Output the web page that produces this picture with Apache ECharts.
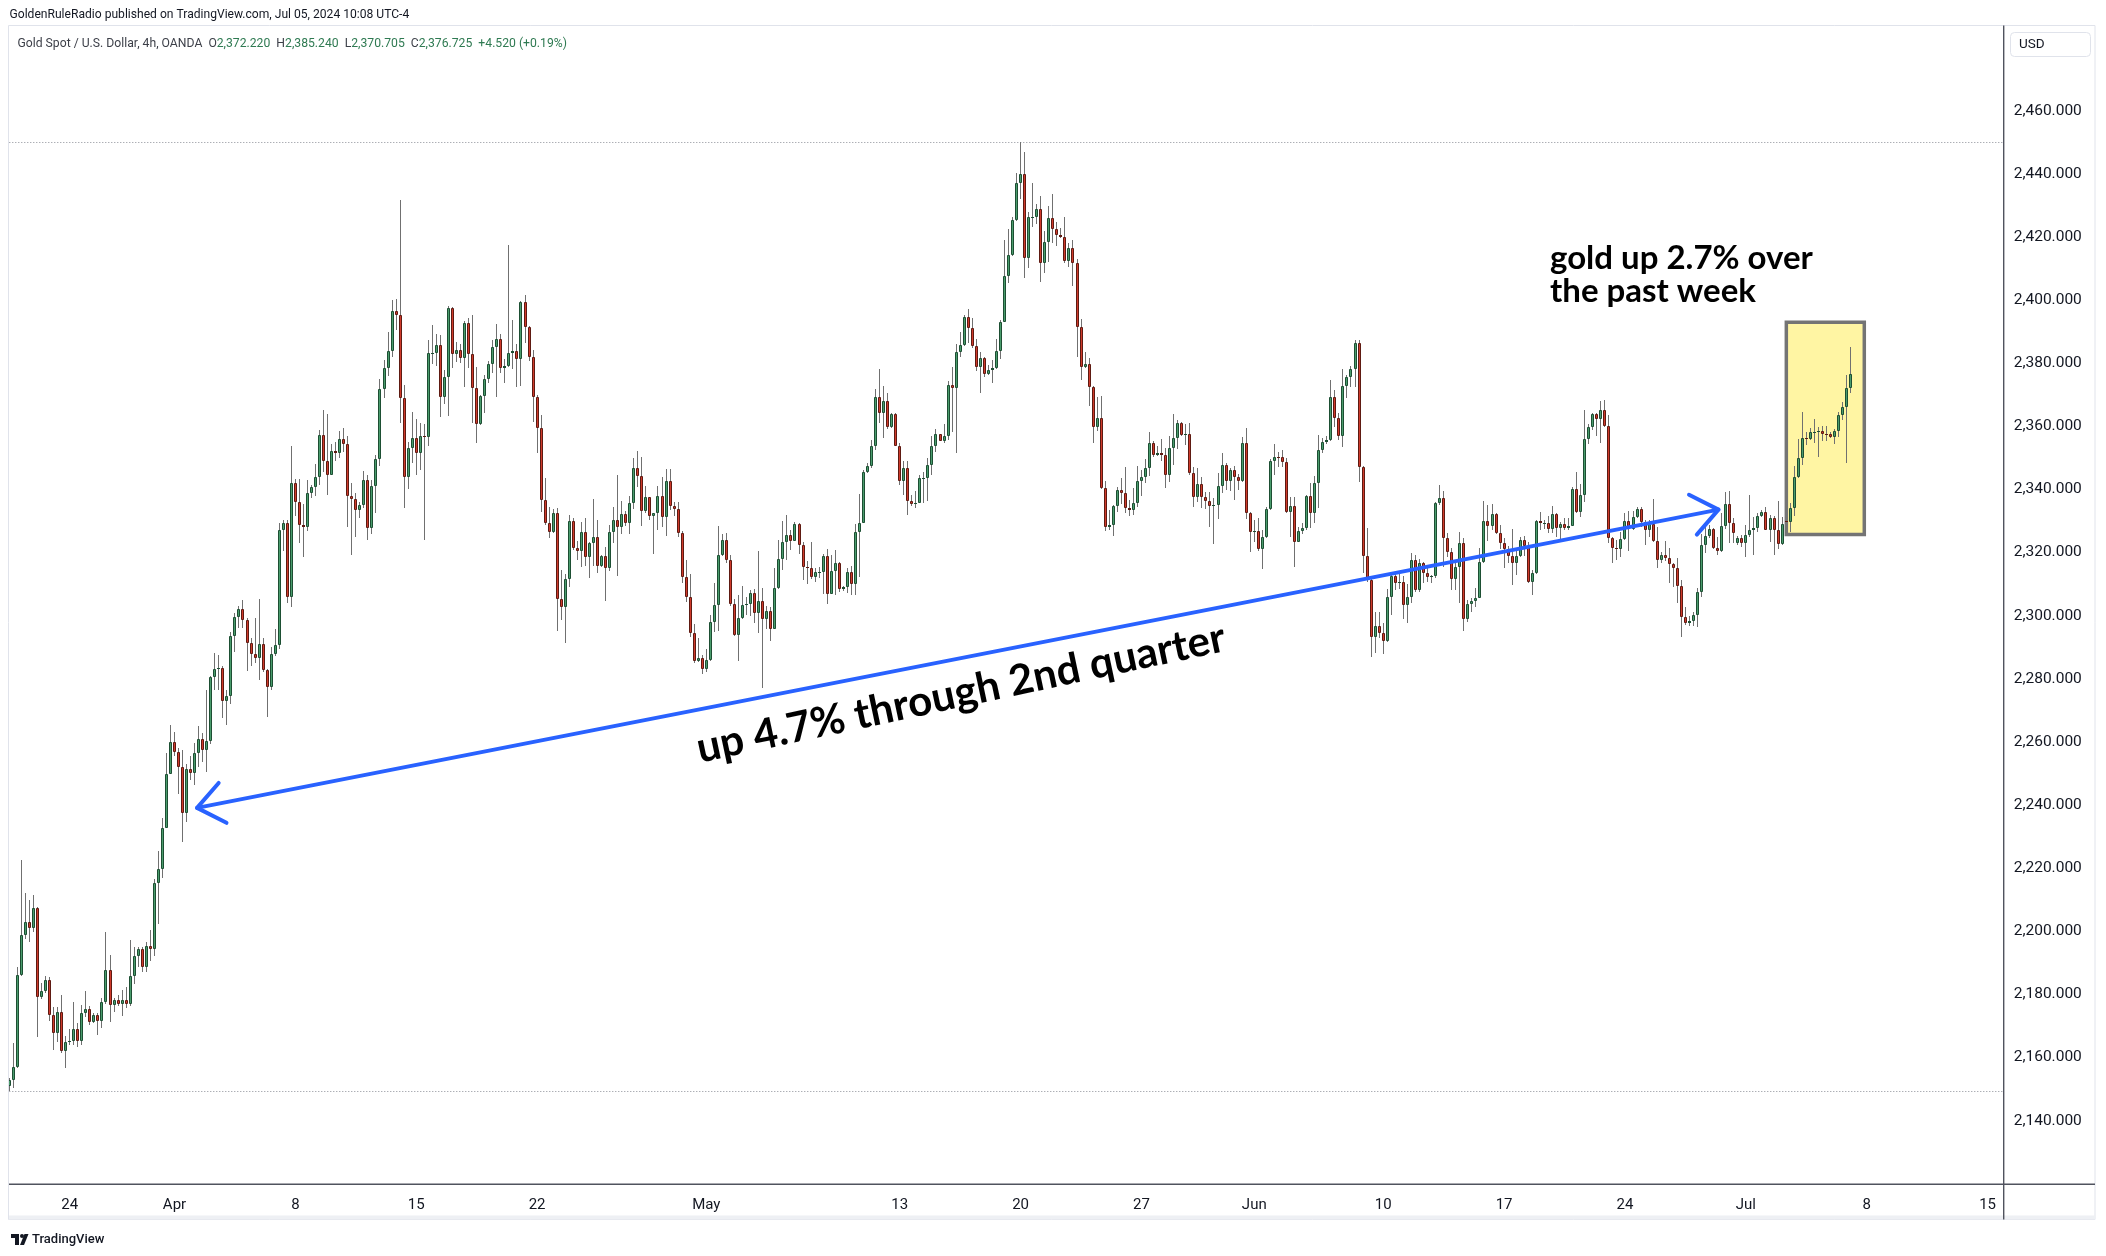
<!DOCTYPE html>
<html><head><meta charset="utf-8">
<script src="https://cdn.jsdelivr.net/npm/echarts@6/dist/echarts.min.js"></script>
<style>html,body{margin:0;padding:0;background:#fff}#c{width:2106px;height:1256px}</style>
</head><body><div id="c"></div>
<script>
// ---- 4h OHLC bars [open, high, low, close], grouped by trading week ----
const mar20 = [
[2151.0,2153.5,2149.4,2152.9],[2152.9,2164.5,2150.2,2157.1],[2157.1,2188.8,2156.6,2186.2],[2186.2,2222.6,2185.9,2198.8],[2198.8,2212.2,2197.7,2202.8],
[2202.8,2209.9,2196.7,2201.2],[2201.2,2211.5,2199.9,2207.3],[2207.3,2207.8,2166.4,2179.3],[2179.3,2183.5,2178.4,2181.1],[2181.1,2185.8,2180.3,2184.6],
[2184.6,2185.4,2171.7,2173.4],[2173.4,2175.9,2162.4,2167.7],[2167.7,2175.9,2165.0,2174.3],[2174.3,2179.8,2161.5,2162.2],[2162.2,2166.8,2156.8,2164.8]];
const mar24 = [
[2164.8,2169.2,2164.0,2165.2],[2165.2,2177.7,2164.0,2168.9],[2168.9,2170.8,2163.4,2165.4],[2165.4,2176.6,2164.0,2174.0],[2174.0,2181.1,2173.0,2175.3],
[2175.3,2176.3,2170.3,2171.4],[2171.4,2174.0,2171.1,2173.5],[2173.5,2174.0,2167.2,2171.7],[2171.7,2178.8,2169.5,2177.7],[2177.7,2199.9,2177.0,2187.7],
[2187.7,2192.5,2171.4,2176.5],[2176.5,2179.0,2174.5,2178.2],[2178.2,2179.8,2176.4,2177.0],[2177.0,2181.4,2173.3,2178.2],[2178.2,2182.5,2175.6,2176.9],
[2176.9,2197.3,2176.4,2185.8],[2185.8,2195.1,2183.3,2192.2],[2192.2,2194.9,2188.8,2194.5],[2194.5,2194.9,2187.2,2188.6],[2188.6,2196.6,2187.2,2195.4],
[2195.4,2200.4,2190.7,2194.3],[2194.3,2216.6,2192.2,2215.4],[2215.4,2225.4,2202.3,2219.9],[2219.9,2235.8,2216.8,2232.6]];
const mar31 = [
[2232.6,2256.4,2232.6,2249.9],[2249.9,2265.4,2249.9,2259.9],[2259.9,2263.3,2255.5,2256.9],[2256.9,2258.0,2243.5,2252.2],[2252.2,2257.4,2228.4,2237.6],
[2237.6,2252.9,2234.5,2251.3],[2251.3,2255.5,2247.8,2250.2],[2250.2,2259.8,2246.5,2256.5],[2256.5,2265.1,2252.2,2260.9],[2260.9,2262.9,2253.5,2257.3],
[2257.3,2276.5,2250.6,2260.2],[2260.2,2280.9,2259.5,2280.5],[2280.5,2288.2,2276.5,2283.1],[2283.1,2287.5,2276.5,2283.3],[2283.3,2284.2,2267.5,2272.9],
[2272.9,2276.5,2265.3,2274.5],[2274.5,2294.9,2271.9,2293.5],[2293.5,2300.9,2288.6,2299.5],[2299.5,2303.1,2296.2,2302.2],[2302.2,2304.9,2296.2,2298.6],
[2298.6,2299.2,2282.6,2291.2],[2291.2,2292.9,2284.2,2287.8],[2287.8,2299.2,2284.9,2286.5],[2286.5,2305.3,2279.5,2290.9],[2290.9,2292.9,2282.2,2282.9],
[2282.9,2283.1,2267.8,2277.5],[2277.5,2290.2,2276.5,2287.8],[2287.8,2295.9,2287.1,2290.6],[2290.6,2329.5,2289.5,2327.2],[2327.2,2330.2,2320.5,2329.5]];
const apr07 = [
[2329.5,2330.2,2304.0,2305.8],[2305.8,2353.8,2302.9,2341.9],[2341.9,2343.2,2331.5,2335.9],[2335.9,2343.2,2322.9,2328.6],[2328.6,2335.5,2318.6,2328.0],
[2328.0,2342.9,2326.9,2338.9],[2338.9,2341.5,2337.2,2340.7],[2340.7,2348.2,2337.8,2343.8],[2343.8,2358.9,2341.5,2357.1],[2357.1,2365.3,2345.6,2348.9],
[2348.9,2363.9,2338.2,2344.7],[2344.7,2354.5,2344.6,2352.2],[2352.2,2355.0,2349.0,2351.5],[2351.5,2358.5,2350.0,2356.0],[2356.0,2359.6,2352.0,2354.5],
[2354.5,2357.0,2328.2,2337.9],[2337.9,2342.0,2319.1,2337.1],[2337.1,2339.0,2325.0,2333.5],[2333.5,2336.0,2331.0,2335.1],[2335.1,2346.0,2334.0,2342.9],
[2342.9,2344.5,2324.0,2327.9],[2327.9,2343.0,2326.0,2341.2],[2341.2,2351.0,2332.5,2349.6],[2349.6,2375.0,2347.5,2371.8],[2371.8,2381.0,2369.0,2378.5],
[2378.5,2390.0,2376.0,2384.0],[2384.0,2400.0,2382.0,2396.5],[2396.5,2400.5,2390.5,2395.4],[2395.4,2431.6,2360.9,2368.9],[2368.9,2373.0,2334.0,2343.8]];
const apr14 = [
[2343.8,2355.0,2340.0,2353.0],[2353.0,2364.6,2348.3,2356.2],[2356.2,2362.2,2344.6,2351.4],[2351.4,2361.0,2346.2,2356.9],[2356.9,2360.7,2324.0,2356.7],
[2356.7,2387.4,2353.9,2383.1],[2383.1,2392.1,2379.8,2383.3],[2383.3,2389.3,2379.1,2385.8],[2385.8,2389.0,2362.9,2369.2],[2369.2,2377.9,2367.1,2375.7],
[2375.7,2398.1,2363.4,2397.4],[2397.4,2397.9,2378.4,2382.8],[2382.8,2386.8,2380.5,2384.2],[2384.2,2386.1,2380.2,2381.5],[2381.5,2393.5,2372.6,2392.6],
[2392.6,2394.2,2378.4,2382.8],[2382.8,2395.3,2360.9,2372.0],[2372.0,2378.7,2354.6,2360.6],[2360.6,2370.0,2360.4,2369.6],[2369.6,2376.3,2364.1,2374.9],
[2374.9,2380.7,2373.6,2379.6],[2379.6,2387.4,2377.0,2385.0],[2385.0,2392.4,2369.4,2387.6],[2387.6,2389.3,2376.8,2378.6],[2378.6,2381.3,2373.6,2379.1],
[2379.1,2417.6,2378.9,2383.1],[2383.1,2393.7,2378.1,2383.9],[2383.9,2386.1,2372.6,2381.2],[2381.2,2399.8,2372.8,2399.3],[2399.3,2401.6,2386.5,2391.6]];
const apr21 = [
[2391.6,2391.8,2380.8,2381.9],[2381.9,2384.2,2361.5,2369.2],[2369.2,2369.9,2351.4,2359.4],[2359.4,2363.6,2333.0,2336.7],[2336.7,2343.5,2328.7,2329.5],
[2329.5,2334.5,2324.5,2326.6],[2326.6,2333.7,2326.1,2332.4],[2332.4,2334.0,2295.3,2305.2],[2305.2,2314.5,2298.6,2302.9],[2302.9,2313.2,2291.2,2311.5],
[2311.5,2331.9,2309.2,2330.0],[2330.0,2330.9,2320.8,2321.6],[2321.6,2323.8,2317.6,2320.6],[2320.6,2329.6,2315.5,2326.5],[2326.5,2330.9,2315.7,2318.7],
[2318.7,2323.5,2311.8,2323.1],[2323.1,2337.0,2315.8,2324.8],[2324.8,2330.3,2313.6,2315.8],[2315.8,2319.2,2315.3,2318.9],[2318.9,2321.9,2304.8,2315.0],
[2315.0,2328.7,2314.3,2326.4],[2326.4,2334.5,2322.9,2330.3],[2330.3,2344.6,2312.6,2328.2],[2328.2,2336.4,2325.9,2332.2],[2332.2,2333.3,2328.4,2329.5],
[2329.5,2337.9,2325.9,2335.8],[2335.8,2349.9,2333.7,2346.7],[2346.7,2352.2,2340.7,2344.4],[2344.4,2350.4,2328.4,2333.3],[2333.3,2341.1,2332.6,2337.5]];
const apr28 = [
[2337.5,2337.7,2330.3,2331.7],[2331.7,2332.6,2319.5,2332.4],[2332.4,2341.1,2327.2,2337.9],[2337.9,2344.1,2328.0,2331.4],[2331.4,2346.4,2325.2,2342.7],
[2342.7,2346.4,2333.5,2334.9],[2334.9,2336.1,2331.6,2333.7],[2333.7,2336.1,2324.8,2326.1],[2326.1,2326.9,2310.5,2312.4],[2312.4,2317.7,2304.4,2305.8],
[2305.8,2313.2,2293.1,2294.4],[2294.4,2297.4,2285.1,2285.7],[2285.7,2292.8,2285.4,2286.5],[2286.5,2287.7,2281.5,2283.1],[2283.1,2289.4,2282.3,2286.0],
[2286.0,2300.1,2285.8,2298.1],[2298.1,2310.5,2294.9,2303.4],[2303.4,2328.3,2295.0,2319.1],[2319.1,2326.0,2318.9,2324.0],[2324.0,2326.3,2316.8,2317.8],
[2317.8,2319.1,2303.0,2303.6],[2303.6,2305.3,2293.6,2294.0],[2294.0,2306.7,2285.5,2299.2],[2299.2,2309.3,2299.0,2303.4],[2303.4,2305.9,2300.1,2303.8],
[2303.8,2308.2,2299.8,2307.3],[2307.3,2308.5,2297.6,2300.9],[2300.9,2320.5,2294.6,2304.5],[2304.5,2308.8,2277.1,2298.8],[2298.8,2303.0,2295.9,2301.5]];
const may05 = [
[2301.5,2302.7,2292.1,2295.8],[2295.8,2315.1,2295.8,2308.8],[2308.8,2324.0,2308.4,2318.0],[2318.0,2330.1,2314.5,2323.2],[2323.2,2332.0,2317.6,2325.5],
[2325.5,2327.2,2320.9,2323.7],[2323.7,2329.7,2323.7,2329.2],[2329.2,2329.5,2319.7,2322.4],[2322.4,2323.2,2311.4,2315.3],[2315.3,2317.4,2309.9,2315.0],
[2315.0,2323.4,2311.6,2312.2],[2312.2,2315.1,2310.7,2313.7],[2313.7,2315.3,2312.0,2313.9],[2313.9,2319.7,2307.0,2318.9],[2318.9,2321.1,2303.6,2307.0],
[2307.0,2319.1,2307.0,2314.2],[2314.2,2320.9,2306.7,2316.6],[2316.6,2317.1,2307.6,2308.4],[2308.4,2309.5,2307.8,2309.1],[2309.1,2315.1,2307.3,2313.9],
[2313.9,2315.7,2306.7,2310.1],[2310.1,2328.9,2306.5,2326.4],[2326.4,2338.7,2312.2,2329.5],[2329.5,2346.2,2329.3,2345.6],[2345.6,2348.5,2345.1,2347.4],
[2347.4,2355.8,2346.8,2353.7],[2353.7,2371.9,2352.5,2369.2],[2369.2,2378.2,2361.2,2364.3],[2364.3,2372.7,2356.2,2368.1],[2368.1,2370.7,2359.2,2359.8]];
const may12 = [
[2359.8,2364.3,2359.4,2363.8],[2363.8,2364.1,2353.7,2353.9],[2353.9,2354.8,2341.3,2342.8],[2342.8,2349.1,2338.1,2346.8],[2346.8,2349.1,2332.0,2336.2],
[2336.2,2338.1,2334.7,2335.5],[2335.5,2339.5,2334.1,2335.8],[2335.8,2344.7,2335.8,2343.6],[2343.6,2345.6,2335.8,2343.7],[2343.7,2349.9,2336.2,2347.9],
[2347.9,2356.9,2344.7,2353.9],[2353.9,2359.2,2352.0,2357.5],[2357.5,2357.7,2355.2,2355.4],[2355.4,2360.8,2354.8,2356.8],[2356.8,2374.4,2355.7,2373.0],
[2373.0,2378.8,2358.1,2372.3],[2372.3,2386.2,2351.6,2383.4],[2383.4,2390.0,2382.1,2385.8],[2385.8,2395.3,2385.5,2394.5],[2394.5,2397.2,2386.3,2391.1],
[2391.1,2394.2,2384.7,2385.6],[2385.6,2387.6,2377.6,2378.7],[2378.7,2383.5,2370.7,2381.5],[2381.5,2382.1,2375.7,2376.5],[2376.5,2379.4,2376.3,2377.8],
[2377.8,2381.0,2373.8,2378.5],[2378.5,2387.7,2378.1,2383.9],[2383.9,2393.7,2381.3,2393.0],[2393.0,2419.0,2392.9,2407.6],[2407.6,2422.5,2405.5,2414.3]];
const may19 = [
[2414.3,2426.2,2414.0,2425.4],[2425.4,2440.4,2425.2,2437.2],[2437.2,2450.07,2431.9,2439.9],[2439.9,2447.0,2407.1,2413.4],[2413.4,2428.0,2410.3,2426.2],
[2426.2,2437.2,2423.3,2426.4],[2426.4,2430.5,2424.1,2428.8],[2428.8,2433.0,2405.8,2411.9],[2411.9,2421.9,2408.5,2418.3],[2418.3,2429.8,2412.2,2425.9],
[2425.9,2433.6,2418.0,2422.4],[2422.4,2424.8,2417.2,2420.5],[2420.5,2422.9,2419.6,2420.1],[2420.1,2426.2,2411.9,2412.5],[2412.5,2418.2,2410.6,2416.4],
[2416.4,2419.0,2404.5,2411.9],[2411.9,2412.9,2382.1,2391.6],[2391.6,2394.0,2374.7,2378.7],[2378.7,2383.7,2378.4,2379.9],[2379.9,2381.5,2366.4,2372.4],
[2372.4,2372.8,2354.8,2359.9],[2359.9,2369.4,2358.6,2362.5],[2362.5,2369.6,2340.0,2340.6],[2340.6,2342.8,2326.8,2328.2],[2328.2,2333.5,2327.2,2328.7],
[2328.7,2335.1,2325.3,2334.8],[2334.8,2340.9,2333.0,2339.8],[2339.8,2343.5,2335.4,2339.0],[2339.0,2347.2,2332.4,2334.0],[2334.0,2336.7,2331.6,2333.5]];
const may26 = [
[2333.5,2340.4,2331.9,2335.8],[2335.8,2347.4,2334.5,2342.7],[2342.7,2346.2,2338.0,2343.8],[2343.8,2349.5,2342.1,2346.7],[2346.7,2358.3,2344.3,2354.6],
[2354.6,2355.2,2350.4,2350.9],[2350.9,2353.8,2350.6,2351.7],[2351.7,2355.9,2349.1,2350.9],[2350.9,2353.2,2340.4,2344.6],[2344.6,2356.9,2342.3,2353.0],
[2353.0,2363.9,2347.9,2356.2],[2356.2,2362.0,2352.7,2360.9],[2360.9,2361.4,2356.9,2357.3],[2357.3,2360.7,2354.1,2357.5],[2357.5,2360.9,2344.6,2345.1],
[2345.1,2347.0,2334.3,2337.5],[2337.5,2346.9,2335.9,2341.6],[2341.6,2344.0,2334.0,2337.7],[2337.7,2339.3,2333.7,2336.4],[2336.4,2339.3,2328.0,2334.9],
[2334.9,2337.2,2322.6,2335.0],[2335.0,2345.1,2330.5,2341.1],[2341.1,2351.4,2338.8,2347.7],[2347.7,2348.3,2339.8,2342.8],[2342.8,2346.9,2339.6,2346.2],
[2346.2,2347.4,2336.7,2343.8],[2343.8,2344.9,2339.8,2342.8],[2342.8,2356.7,2342.5,2354.6],[2354.6,2359.6,2330.5,2332.4],[2332.4,2333.0,2320.3,2326.6]];
const jun02 = [
[2326.6,2330.3,2323.2,2326.9],[2326.9,2330.8,2320.6,2321.0],[2321.0,2327.1,2314.7,2325.0],[2325.0,2334.5,2324.5,2333.8],[2333.8,2349.5,2333.5,2349.0],
[2349.0,2354.4,2344.6,2350.4],[2350.4,2352.0,2347.2,2350.2],[2350.2,2352.5,2347.0,2348.8],[2348.8,2349.9,2332.4,2333.0],[2333.0,2337.7,2325.0,2334.8],
[2334.8,2337.7,2315.5,2323.5],[2323.5,2328.2,2323.3,2326.9],[2326.9,2329.3,2325.9,2327.7],[2327.7,2338.2,2327.2,2337.9],[2337.9,2341.9,2327.7,2332.4],
[2332.4,2344.3,2329.3,2341.9],[2341.9,2357.2,2334.0,2352.5],[2352.5,2356.2,2351.6,2354.9],[2354.9,2356.9,2354.4,2355.7],[2355.7,2374.7,2355.5,2369.2],
[2369.2,2371.5,2359.7,2362.5],[2362.5,2364.1,2355.7,2357.0],[2357.0,2378.1,2353.3,2372.8],[2372.8,2376.3,2368.9,2375.5],[2375.5,2379.1,2372.4,2378.1],
[2378.1,2387.4,2372.4,2386.3],[2386.3,2387.4,2342.5,2347.0],[2347.0,2347.4,2313.4,2319.0],[2319.0,2327.7,2310.8,2311.3],[2311.3,2311.8,2286.8,2293.4]];
const jun09 = [
[2293.4,2301.3,2288.1,2296.7],[2296.7,2301.3,2292.8,2294.4],[2294.4,2297.6,2287.8,2292.1],[2292.1,2308.4,2291.8,2305.8],[2305.8,2313.6,2300.2,2312.6],
[2312.6,2313.2,2308.3,2310.5],[2310.5,2313.1,2308.6,2310.8],[2310.8,2312.6,2298.8,2303.3],[2303.3,2310.2,2297.6,2305.8],[2305.8,2319.8,2303.9,2317.6],
[2317.6,2319.2,2307.6,2308.1],[2308.1,2317.9,2307.6,2316.6],[2316.6,2317.1,2310.5,2313.6],[2313.6,2315.0,2310.8,2312.4],[2312.4,2313.0,2310.5,2312.6],
[2312.6,2336.1,2311.8,2335.6],[2335.6,2341.4,2335.1,2337.2],[2337.2,2339.5,2315.5,2324.5],[2324.5,2326.3,2318.5,2320.3],[2320.3,2321.3,2308.1,2311.5],
[2311.5,2317.1,2308.1,2315.3],[2315.3,2326.6,2303.9,2322.9],[2322.9,2324.5,2295.3,2298.8],[2298.8,2305.0,2298.1,2303.7],[2303.7,2305.5,2301.3,2304.6],
[2304.6,2308.7,2302.9,2305.5],[2305.5,2321.3,2305.5,2316.9],[2316.9,2336.3,2316.6,2330.0],[2330.0,2335.1,2323.8,2328.5],[2328.5,2335.4,2327.1,2332.1]];
const jun16 = [
[2332.1,2332.4,2325.9,2326.1],[2326.1,2328.7,2321.0,2323.1],[2323.1,2324.5,2315.2,2321.0],[2321.0,2322.1,2316.6,2319.0],[2319.0,2327.4,2309.7,2316.6],
[2316.6,2320.8,2312.9,2318.9],[2318.9,2325.0,2318.7,2324.0],[2324.0,2325.2,2318.9,2322.2],[2322.2,2323.5,2310.5,2310.8],[2310.8,2314.5,2306.6,2313.4],
[2313.4,2330.3,2313.2,2330.0],[2330.0,2333.0,2327.2,2329.3],[2329.3,2330.3,2327.4,2329.5],[2329.5,2331.6,2326.3,2327.5],[2327.5,2334.8,2326.1,2332.1],
[2332.1,2332.4,2325.0,2327.9],[2327.9,2329.8,2323.5,2329.0],[2329.0,2330.8,2327.1,2327.7],[2327.7,2330.8,2327.3,2328.4],[2328.4,2340.9,2328.4,2340.0],
[2340.0,2345.6,2332.6,2332.9],[2332.9,2341.7,2331.4,2338.2],[2338.2,2365.2,2336.1,2355.9],[2355.9,2360.7,2354.4,2359.7],[2359.7,2364.3,2358.8,2363.8],
[2363.8,2364.3,2356.9,2362.4],[2362.4,2368.1,2354.6,2365.2],[2365.2,2368.3,2359.9,2360.2],[2360.2,2363.6,2323.1,2324.5],[2324.5,2324.8,2316.6,2321.4]];
const jun23 = [
[2321.4,2324.1,2317.6,2321.0],[2321.0,2326.6,2318.7,2324.2],[2324.2,2332.4,2324.0,2330.1],[2330.1,2333.3,2320.6,2327.4],[2327.4,2333.3,2327.2,2331.4],
[2331.4,2334.5,2330.8,2333.8],[2333.8,2334.5,2328.2,2329.8],[2329.8,2330.3,2322.4,2327.1],[2327.1,2330.3,2324.8,2329.0],[2329.0,2336.9,2323.5,2323.8],
[2323.8,2328.0,2315.2,2317.6],[2317.6,2320.3,2316.6,2319.2],[2319.2,2323.8,2317.4,2318.2],[2318.2,2321.4,2310.5,2316.3],[2316.3,2316.6,2309.2,2315.2],
[2315.2,2318.2,2304.1,2309.5],[2309.5,2311.3,2293.4,2299.5],[2299.5,2302.9,2297.0,2297.8],[2297.8,2299.9,2296.7,2298.4],[2298.4,2301.3,2296.7,2300.2],
[2300.2,2308.7,2296.5,2307.4],[2307.4,2326.0,2306.0,2322.4],[2322.4,2328.4,2319.8,2325.2],[2325.2,2328.7,2324.5,2327.5],[2327.5,2327.8,2321.0,2321.3],
[2321.3,2325.0,2319.2,2320.6],[2320.6,2332.4,2320.3,2328.4],[2328.4,2339.3,2327.4,2335.4],[2335.4,2339.5,2322.9,2329.5],[2329.5,2330.8,2322.9,2326.3]];
const jun30 = [
[2322.9,2325.2,2322.4,2324.5],[2324.5,2325.6,2321.9,2323.1],[2323.1,2328.7,2318.5,2325.6],[2325.6,2338.2,2325.0,2327.2],[2327.2,2331.4,2319.2,2327.9],
[2327.9,2332.4,2326.6,2331.7],[2331.7,2333.5,2331.2,2333.0],[2333.0,2334.3,2327.0,2327.2],[2327.2,2331.9,2323.5,2330.8],[2330.8,2331.6,2319.2,2327.2],
[2327.2,2336.4,2321.0,2322.7],[2322.7,2331.2,2322.4,2329.0],[2330.0,2330.2,2329.3,2329.6],[2329.6,2335.6,2326.6,2334.0],[2334.0,2347.4,2331.7,2344.0],
[2344.0,2355.9,2343.5,2350.1],[2350.1,2364.6,2347.8,2356.2],[2356.2,2358.3,2354.1,2355.9],[2355.9,2359.4,2355.7,2358.1],[2358.1,2362.2,2354.8,2358.3],
[2358.3,2359.9,2350.4,2358.5],[2358.5,2360.1,2355.5,2357.5],[2357.5,2360.1,2355.5,2357.3],[2357.5,2358.1,2356.2,2356.7],[2356.7,2359.0,2354.3,2358.5],
[2358.5,2364.6,2356.5,2363.6],[2363.6,2367.8,2362.0,2366.0],[2366.0,2376.3,2348.5,2372.205],[2372.22,2385.24,2370.705,2376.725]];

// ---- time axis (bar index of each label) ----
const tickBars   = [15, 41, 71, 101, 131, 173, 221, 251, 281, 309, 341, 371, 401, 431, 461, 491];
const tickLabels = ['24','Apr','8','15','22','May','13','20','27','Jun','10','17','24','Jul','8','15'];
const axisSlots = 495;          // bar slots across the plot (incl. empty future space)

// ---- price axis ----
const priceMin = 2120, priceMax = 2487, priceStep = 20;
const priceShownMin = 2140, priceShownMax = 2460;

// ---- range marker lines (visible high / low) ----
const rangeLines = [2450.07, 2149.4];

// ---- drawings (in bar index / price) ----
const arrowEnds = [[46.6, 2239.1, 424.2, 2333.6]];
const boxCorners = [[441.05, 2393.0, 460.4, 2325.7]];
const noteTexts = ['gold up 2.7% over\nthe past week', 'up 4.7% through 2nd quarter'];
const noteAnchors = [[382.4, 2407.9], [236.2, 2275.4]];

const headerText = 'GoldenRuleRadio published on TradingView.com, Jul 05, 2024 10:08 UTC-4';
const symbolText = 'Gold Spot / U.S. Dollar, 4h, OANDA';

// ---------------------------------------------------------------
const weeks = [mar20, mar24, mar31, apr07, apr14, apr21, apr28, may05, may12, may19, may26, jun02, jun09, jun16, jun23, jun30];
const ohlc = [].concat(...weeks);
const candleData = ohlc.map((b, i) => [i, b[0], b[1], b[2], b[3]]);

const fmtP = v => v.toLocaleString('en-US', {minimumFractionDigits: 3, maximumFractionDigits: 3});
const last = ohlc[ohlc.length - 1], prevC = ohlc[ohlc.length - 2][3];
const chg = last[3] - prevC;
const chgTxt = (chg >= 0 ? '+' : '') + chg.toFixed(3) + ' (' + (chg >= 0 ? '+' : '') + (chg / prevC * 100).toFixed(2) + '%)';

const UP_F = '#4a9c6d', UP_B = '#1d4f33', DN_F = '#cf3a2b', DN_B = '#5e1a12', WICK = '#707070';
const BLUE = '#2962ff';

function renderCandle(params, api) {
  const i = api.value(0), o = api.value(1), h = api.value(2), l = api.value(3), c = api.value(4);
  const po = api.coord([i, o]), pc = api.coord([i, c]), ph = api.coord([i, h]), pl = api.coord([i, l]);
  const x = Math.floor(po[0]);
  const up = c >= o;
  let yt = Math.round(Math.min(po[1], pc[1])), yb = Math.round(Math.max(po[1], pc[1]));
  if (yb - yt < 1) yb = yt + 1;
  const wt = Math.round(ph[1]), wb = Math.round(pl[1]);
  const ch = [{type: 'rect', shape: {x: x, y: wt, width: 1, height: Math.max(1, wb - wt)}, style: {fill: WICK}}];
  const bh = yb - yt;
  if (bh <= 2) {
    ch.push({type: 'rect', shape: {x: x - 1, y: yt, width: 3, height: bh}, style: {fill: up ? UP_B : DN_B}});
  } else {
    ch.push({type: 'rect', shape: {x: x - 0.5, y: yt + 0.5, width: 2, height: bh - 1},
      style: {fill: up ? UP_F : DN_F, stroke: up ? UP_B : DN_B, lineWidth: 1}});
  }
  return {type: 'group', children: ch};
}

function renderRange(params, api) {
  const a = api.coord([0, api.value(0)]), b = api.coord([axisSlots, api.value(0)]);
  const y = Math.round(a[1]) + 0.5;
  return {type: 'line', shape: {x1: a[0], y1: y, x2: b[0], y2: y},
    style: {stroke: '#8a8d96', lineWidth: 1, lineDash: [1, 2]}};
}

function renderBox(params, api) {
  const a = api.coord([api.value(0), api.value(1)]), b = api.coord([api.value(2), api.value(3)]);
  return {type: 'rect', shape: {x: a[0], y: a[1], width: b[0] - a[0], height: b[1] - a[1]},
    style: {fill: '#fff5a3', stroke: '#747474', lineWidth: 3.5}};
}

function renderArrow(params, api) {
  const a = api.coord([api.value(0), api.value(1)]), b = api.coord([api.value(2), api.value(3)]);
  const ang = Math.atan2(b[1] - a[1], b[0] - a[0]);
  const L = 33, t = 38 * Math.PI / 180;
  const st = {stroke: BLUE, lineWidth: 4, fill: null, lineCap: 'round', lineJoin: 'round'};
  const head = (p, d) => ({type: 'polyline', shape: {points: [
    [p[0] + L * Math.cos(d + t), p[1] + L * Math.sin(d + t)], [p[0], p[1]],
    [p[0] + L * Math.cos(d - t), p[1] + L * Math.sin(d - t)]]}, style: st});
  return {type: 'group', children: [
    {type: 'line', shape: {x1: a[0], y1: a[1], x2: b[0], y2: b[1]}, style: st},
    head(a, ang), head(b, ang + Math.PI)]};
}

function renderNote(params, api) {
  const k = params.dataIndex;
  const p = api.coord([api.value(0), api.value(1)]);
  if (k === 0) {
    return {type: 'text', x: p[0], y: p[1], style: {text: noteTexts[0], fontFamily: 'Lato', fontWeight: 'bold',
      fontSize: 33, lineHeight: 33, fill: '#000', align: 'left', verticalAlign: 'middle'}};
  }
  return {type: 'text', x: p[0], y: p[1], rotation: 12 * Math.PI / 180,
    style: {text: noteTexts[1], fontFamily: 'Lato', fontWeight: 'bold', fontSize: 42, fill: '#000',
      align: 'center', verticalAlign: 'middle'}};
}

const chart = echarts.init(document.getElementById('c'), null, {renderer: 'canvas', width: 2106, height: 1256});
const AXL = 2003.7, AXB = 1183.8, FR = 2095, FB = 1219.5;

chart.setOption({
  animation: false,
  backgroundColor: '#ffffff',
  grid: {left: 9.3, right: 2106 - AXL, top: 25.5, bottom: 1256 - AXB, containLabel: false, outerBoundsMode: 'none'},
  xAxis: {
    type: 'value', min: 0, max: axisSlots,
    axisLine: {show: false}, axisTick: {show: false}, splitLine: {show: false},
    axisLabel: {customValues: tickBars, formatter: v => tickLabels[tickBars.indexOf(v)] || '',
      color: '#131722', fontSize: 15, fontFamily: 'Roboto', margin: 13.5}
  },
  yAxis: {
    type: 'value', position: 'right', min: priceMin, max: priceMax, interval: priceStep,
    axisLine: {show: false}, axisTick: {show: false}, splitLine: {show: false},
    axisLabel: {formatter: v => (v >= priceShownMin && v <= priceShownMax && v % priceStep === 0) ? fmtP(v) : '',
      color: '#131722', fontSize: 15.5, fontFamily: 'Roboto', margin: 10}
  },
  series: [
    {type: 'custom', name: 'box', renderItem: renderBox, data: boxCorners, z: 1, silent: true, clip: true},
    {type: 'custom', name: 'range', renderItem: renderRange, data: rangeLines.map(v => [v]), encode: {y: 0}, z: 2, silent: true, clip: true},
    {type: 'custom', name: 'XAUUSD', renderItem: renderCandle, data: candleData, encode: {x: 0, y: [1, 2, 3, 4]}, z: 3, silent: true, clip: true},
    {type: 'custom', name: 'arrow', renderItem: renderArrow, data: arrowEnds, z: 4, silent: true, clip: true},
    {type: 'custom', name: 'notes', renderItem: renderNote, data: noteAnchors, z: 5, silent: true, clip: false}
  ],
  graphic: [
    {type: 'rect', z: 0, shape: {x: 8.5, y: 25.5, width: FR - 8.5, height: FB - 25.5}, style: {fill: null, stroke: '#e0e3eb', lineWidth: 1}},
    {type: 'rect', z: 0, shape: {x: 9, y: FB - 4, width: FR - 9, height: 4}, style: {fill: '#eef0f4'}},
    {type: 'line', z: 10, shape: {x1: AXL, y1: 25.5, x2: AXL, y2: FB}, style: {stroke: '#50535e', lineWidth: 1.4}},
    {type: 'line', z: 10, shape: {x1: 9, y1: AXB + 0.5, x2: FR, y2: AXB + 0.5}, style: {stroke: '#50535e', lineWidth: 1.4}},
    {type: 'text', z: 10, x: 9.5, y: 14.8, style: {text: headerText, fontFamily: 'Roboto', fontSize: 12.1, fill: '#131722', verticalAlign: 'middle'}},
    {type: 'text', z: 10, x: 17.5, y: 43.5, style: {
      text: '{s|' + symbolText + '}  {k|O}{v|' + fmtP(last[0]) + '}  {k|H}{v|' + fmtP(last[1]) + '}  {k|L}{v|' + fmtP(last[2]) +
            '}  {k|C}{v|' + fmtP(last[3]) + '}  {v|' + chgTxt + '}',
      verticalAlign: 'middle', fontFamily: 'Roboto', fontSize: 12.2,
      rich: {s: {fill: '#3c3f48', fontFamily: 'Roboto', fontSize: 12.2}, k: {fill: '#3c3f48', fontFamily: 'Roboto', fontSize: 12.2},
             v: {fill: '#2f7a52', fontFamily: 'Roboto', fontSize: 12.2}}}},
    {type: 'rect', z: 10, shape: {x: 2010.5, y: 32.5, width: 80, height: 24, r: 4}, style: {fill: '#fff', stroke: '#e0e3eb', lineWidth: 1}},
    {type: 'text', z: 11, x: 2019, y: 44.5, style: {text: 'USD', fontFamily: 'Roboto', fontSize: 13.5, fill: '#131722', verticalAlign: 'middle'}},
    {type: 'group', z: 10, x: 11, y: 1234, children: [
      {type: 'rect', shape: {x: 0, y: 0, width: 8, height: 4}, style: {fill: '#131722'}},
      {type: 'rect', shape: {x: 4, y: 0, width: 4, height: 11}, style: {fill: '#131722'}},
      {type: 'circle', shape: {cx: 11, cy: 2, r: 2}, style: {fill: '#131722'}},
      {type: 'polygon', shape: {points: [[13.5, 0], [17.5, 0], [13, 11], [9, 11]]}, style: {fill: '#131722'}}
    ]},
    {type: 'text', z: 10, x: 32, y: 1240, style: {text: 'TradingView', fontFamily: 'Roboto', fontSize: 13, fontWeight: 500, fill: '#131722', verticalAlign: 'middle'}}
  ]
});
</script></body></html>
